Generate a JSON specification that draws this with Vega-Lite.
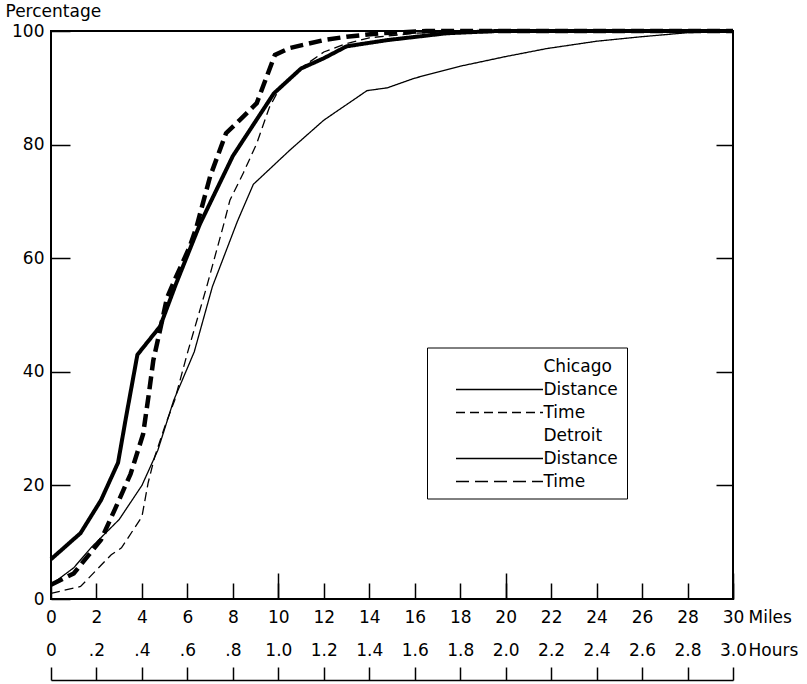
{
  "$schema": "https://vega.github.io/schema/vega-lite/v6.json",
  "width": 682,
  "height": 568,
  "autosize": {"type": "none"},
  "padding": {"left": 51, "top": 31, "right": 74, "bottom": 85},
  "background": "white",
  "config": {
    "view": {"stroke": "black", "strokeWidth": 2},
    "axis": {
      "grid": false,
      "labelFont": "DejaVu Sans",
      "labelFontSize": 17,
      "labelColor": "black",
      "tickColor": "black",
      "tickWidth": 1.5,
      "domainColor": "black",
      "titleFont": "DejaVu Sans",
      "titleFontSize": 17,
      "titleFontWeight": "normal",
      "titleColor": "black"
    }
  },
  "data": {
    "values": [
      {"series": "Chicago Distance", "miles": 0, "pct": 2.5},
      {"series": "Chicago Distance", "miles": 1, "pct": 5.5},
      {"series": "Chicago Distance", "miles": 1.8, "pct": 9.2},
      {"series": "Chicago Distance", "miles": 3, "pct": 14},
      {"series": "Chicago Distance", "miles": 4, "pct": 20},
      {"series": "Chicago Distance", "miles": 4.7, "pct": 26.2},
      {"series": "Chicago Distance", "miles": 5.4, "pct": 35},
      {"series": "Chicago Distance", "miles": 6.3, "pct": 43.5},
      {"series": "Chicago Distance", "miles": 7.1, "pct": 55},
      {"series": "Chicago Distance", "miles": 8.2, "pct": 66.5},
      {"series": "Chicago Distance", "miles": 8.9, "pct": 73},
      {"series": "Chicago Distance", "miles": 10.5, "pct": 79},
      {"series": "Chicago Distance", "miles": 12, "pct": 84.3},
      {"series": "Chicago Distance", "miles": 13.9, "pct": 89.5},
      {"series": "Chicago Distance", "miles": 14.8, "pct": 90},
      {"series": "Chicago Distance", "miles": 16, "pct": 91.7},
      {"series": "Chicago Distance", "miles": 18, "pct": 93.8},
      {"series": "Chicago Distance", "miles": 20, "pct": 95.5},
      {"series": "Chicago Distance", "miles": 21.8, "pct": 96.9},
      {"series": "Chicago Distance", "miles": 24, "pct": 98.2},
      {"series": "Chicago Distance", "miles": 26, "pct": 99},
      {"series": "Chicago Distance", "miles": 28, "pct": 99.7},
      {"series": "Chicago Distance", "miles": 30, "pct": 100},
      {"series": "Chicago Time", "miles": 0, "pct": 1},
      {"series": "Chicago Time", "miles": 1.3, "pct": 2.2},
      {"series": "Chicago Time", "miles": 2.65, "pct": 7.8},
      {"series": "Chicago Time", "miles": 3.1, "pct": 9},
      {"series": "Chicago Time", "miles": 4, "pct": 14.5},
      {"series": "Chicago Time", "miles": 4.27, "pct": 20.4},
      {"series": "Chicago Time", "miles": 4.56, "pct": 25},
      {"series": "Chicago Time", "miles": 5, "pct": 30.3},
      {"series": "Chicago Time", "miles": 5.44, "pct": 35},
      {"series": "Chicago Time", "miles": 6, "pct": 43.3},
      {"series": "Chicago Time", "miles": 6.85, "pct": 55},
      {"series": "Chicago Time", "miles": 7.6, "pct": 66},
      {"series": "Chicago Time", "miles": 7.87, "pct": 70.2},
      {"series": "Chicago Time", "miles": 8.46, "pct": 75},
      {"series": "Chicago Time", "miles": 9.05, "pct": 80.2},
      {"series": "Chicago Time", "miles": 9.6, "pct": 86.5},
      {"series": "Chicago Time", "miles": 10, "pct": 89.5},
      {"series": "Chicago Time", "miles": 11, "pct": 93.5},
      {"series": "Chicago Time", "miles": 12, "pct": 96.3},
      {"series": "Chicago Time", "miles": 13, "pct": 97.8},
      {"series": "Chicago Time", "miles": 14, "pct": 98.8},
      {"series": "Chicago Time", "miles": 16, "pct": 99.6},
      {"series": "Chicago Time", "miles": 18, "pct": 100},
      {"series": "Chicago Time", "miles": 30, "pct": 100},
      {"series": "Detroit Distance", "miles": 0, "pct": 7},
      {"series": "Detroit Distance", "miles": 1.3, "pct": 11.6},
      {"series": "Detroit Distance", "miles": 2.2, "pct": 17.4},
      {"series": "Detroit Distance", "miles": 2.95, "pct": 24},
      {"series": "Detroit Distance", "miles": 3.3, "pct": 32},
      {"series": "Detroit Distance", "miles": 3.8, "pct": 43},
      {"series": "Detroit Distance", "miles": 4.8, "pct": 48},
      {"series": "Detroit Distance", "miles": 5.5, "pct": 55.5},
      {"series": "Detroit Distance", "miles": 6.55, "pct": 66},
      {"series": "Detroit Distance", "miles": 8, "pct": 78},
      {"series": "Detroit Distance", "miles": 9.8, "pct": 89},
      {"series": "Detroit Distance", "miles": 11, "pct": 93.4},
      {"series": "Detroit Distance", "miles": 12, "pct": 95.2},
      {"series": "Detroit Distance", "miles": 13, "pct": 97.3},
      {"series": "Detroit Distance", "miles": 14.8, "pct": 98.4},
      {"series": "Detroit Distance", "miles": 17.4, "pct": 99.6},
      {"series": "Detroit Distance", "miles": 19.6, "pct": 100},
      {"series": "Detroit Distance", "miles": 30, "pct": 100},
      {"series": "Detroit Time", "miles": 0, "pct": 2.5},
      {"series": "Detroit Time", "miles": 1, "pct": 4.5},
      {"series": "Detroit Time", "miles": 2.2, "pct": 10.4},
      {"series": "Detroit Time", "miles": 2.8, "pct": 15.7},
      {"series": "Detroit Time", "miles": 3.5, "pct": 22},
      {"series": "Detroit Time", "miles": 4.05, "pct": 29},
      {"series": "Detroit Time", "miles": 4.3, "pct": 36},
      {"series": "Detroit Time", "miles": 4.5, "pct": 42},
      {"series": "Detroit Time", "miles": 4.8, "pct": 47.4},
      {"series": "Detroit Time", "miles": 5.1, "pct": 53},
      {"series": "Detroit Time", "miles": 5.5, "pct": 56.7},
      {"series": "Detroit Time", "miles": 6.1, "pct": 62},
      {"series": "Detroit Time", "miles": 6.4, "pct": 65.5},
      {"series": "Detroit Time", "miles": 7, "pct": 74.4},
      {"series": "Detroit Time", "miles": 7.7, "pct": 82},
      {"series": "Detroit Time", "miles": 8.3, "pct": 84.3},
      {"series": "Detroit Time", "miles": 9.05, "pct": 87.3},
      {"series": "Detroit Time", "miles": 9.85, "pct": 95.8},
      {"series": "Detroit Time", "miles": 10.5, "pct": 97},
      {"series": "Detroit Time", "miles": 12, "pct": 98.4},
      {"series": "Detroit Time", "miles": 13, "pct": 99},
      {"series": "Detroit Time", "miles": 14.5, "pct": 99.6},
      {"series": "Detroit Time", "miles": 16.5, "pct": 100},
      {"series": "Detroit Time", "miles": 30, "pct": 100}
    ]
  },
  "encoding": {
    "strokeDash": {
      "field": "series",
      "type": "nominal",
      "scale": {
        "domain": ["Chicago", "Chicago Distance", "Chicago Time", "Detroit", "Detroit Distance", "Detroit Time"],
        "range": [[0, 1000], [1, 0], [9, 5], [0, 1000], [1, 0], [13, 6]]
      },
      "legend": {
        "orient": "none",
        "legendX": 376,
        "legendY": 316.5,
        "title": null,
        "symbolType": "M-4.833,0L4.833,0",
        "symbolSize": 324,
        "symbolOffset": 53.5,
        "labelOffset": 34,
        "symbolStrokeColor": "black",
        "symbolStrokeWidth": 1.6,
        "labelFont": "DejaVu Sans",
        "labelFontSize": 17,
        "labelColor": "black",
        "labelLimit": 300,
        "rowPadding": 5,
        "padding": 9,
        "strokeColor": "black",
        "labelExpr": "indexof(datum.value, ' ') > 0 ? substring(datum.value, indexof(datum.value, ' ') + 1) : datum.value"
      }
    }
  },
  "layer": [
    {
      "transform": [{"filter": "datum.series == 'Chicago Distance'"}],
      "mark": {"type": "line", "color": "black", "strokeWidth": 1.3},
      "encoding": {
        "x": {
          "field": "miles", "type": "quantitative",
          "scale": {"domain": [0, 30], "nice": false, "zero": false},
          "axis": {
            "orient": "bottom",
            "values": [0, 2, 4, 6, 8, 10, 12, 14, 16, 18, 20, 22, 24, 26, 28, 30],
            "tickSize": -16, "labelPadding": 26, "domain": false,
            "labelFlush": false, "labelOverlap": false,
            "title": "Miles", "titleX": 697, "titleY": 18, "titleAlign": "left",
            "titleBaseline": "middle", "titleAngle": 0
          }
        },
        "y": {
          "field": "pct", "type": "quantitative",
          "scale": {"domain": [0, 100], "nice": false},
          "axis": {
            "orient": "left",
            "values": [0, 20, 40, 60, 80, 100],
            "tickSize": -19, "labelPadding": 26, "domain": false,
            "labelFlush": false, "labelOverlap": false,
            "title": "Percentage", "titleAngle": 0, "titleX": -46, "titleY": -20,
            "titleAlign": "left", "titleBaseline": "middle"
          }
        }
      }
    },
    {
      "transform": [{"filter": "datum.series == 'Chicago Time'"}],
      "mark": {"type": "line", "color": "black", "strokeWidth": 1.3},
      "encoding": {
        "x": {
          "field": "miles", "type": "quantitative",
          "scale": {"domain": [0, 30], "nice": false, "zero": false},
          "axis": {
            "orient": "bottom", "values": [10, 20, 30],
            "tickSize": -26, "labels": false, "domain": false, "title": null
          }
        },
        "y": {
          "field": "pct", "type": "quantitative",
          "scale": {"domain": [0, 100], "nice": false},
          "axis": {
            "orient": "right", "values": [20, 40, 60, 80],
            "tickSize": -17, "labels": false, "domain": false, "title": null
          }
        }
      }
    },
    {
      "transform": [{"filter": "datum.series == 'Detroit Distance'"}],
      "mark": {"type": "line", "color": "black", "strokeWidth": 4},
      "encoding": {
        "x": {
          "field": "miles", "type": "quantitative",
          "scale": {"domain": [0, 30], "nice": false, "zero": false},
          "axis": {
            "orient": "top", "offset": -649,
            "values": [0, 2, 4, 6, 8, 10, 12, 14, 16, 18, 20, 22, 24, 26, 28, 30],
            "tickSize": 13, "labelPadding": 8, "domain": true, "domainWidth": 1.5,
            "labelFlush": false, "labelOverlap": false,
            "labelExpr": "datum.value == 0 ? '0' : datum.value < 10 ? '.' + datum.value : format(datum.value / 10, '.1f')",
            "title": "Hours", "titleX": 697, "titleY": -30, "titleAlign": "left",
            "titleBaseline": "middle", "titleAngle": 0
          }
        },
        "y": {
          "field": "pct", "type": "quantitative",
          "scale": {"domain": [0, 100], "nice": false},
          "axis": null
        }
      }
    },
    {
      "transform": [{"filter": "datum.series == 'Detroit Time'"}],
      "mark": {"type": "line", "color": "black", "strokeWidth": 4.5},
      "encoding": {
        "x": {
          "field": "miles", "type": "quantitative",
          "scale": {"domain": [0, 30], "nice": false, "zero": false},
          "axis": null
        },
        "y": {
          "field": "pct", "type": "quantitative",
          "scale": {"domain": [0, 100], "nice": false},
          "axis": null
        }
      }
    }
  ],
  "resolve": {"axis": {"x": "independent", "y": "independent"}}
}
